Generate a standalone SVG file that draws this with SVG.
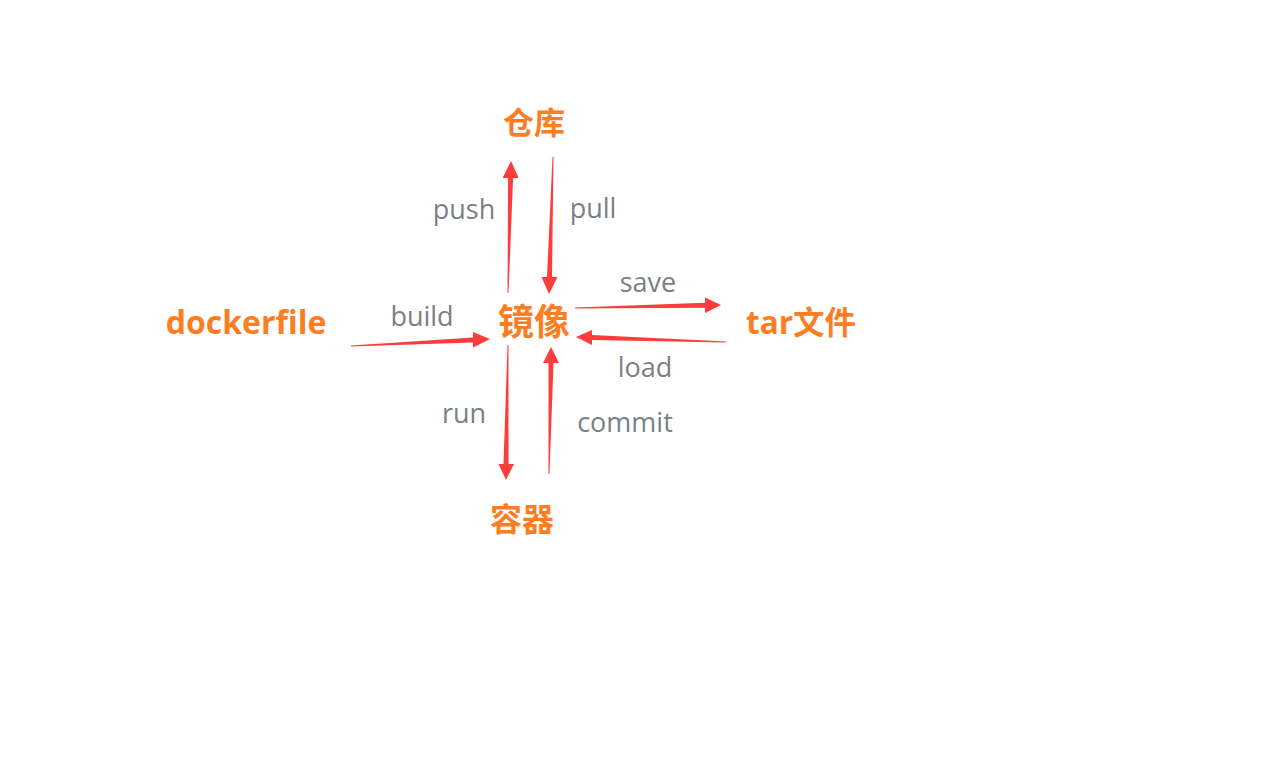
<svg xmlns="http://www.w3.org/2000/svg" width="1262" height="768" viewBox="0 0 1262 768">
<style>
.node{font-family:"Open Sans","Noto Sans CJK SC",sans-serif;font-weight:700;fill:#fd7e22;text-anchor:middle}
.lbl{font-family:"Open Sans","Noto Sans CJK SC",sans-serif;font-size:27px;fill:#7a7f86;text-anchor:middle}
.arr{fill:#ff3c3c}
</style>
<rect width="1262" height="768" fill="#ffffff"/>
<g id="node-repo"><text class="node" x="534" y="134" font-size="31">仓库</text></g>
<g id="node-dockerfile"><text class="node" x="246" y="334" font-size="32">dockerfile</text></g>
<g id="node-image"><text class="node" x="534" y="335" font-size="36">镜像</text></g>
<g id="node-tar"><text class="node" x="801" y="334" font-size="31.5">tar文件</text></g>
<g id="node-container"><text class="node" x="522" y="531" font-size="32">容器</text></g>
<g id="connectors">
<polygon class="arr" points="507.5,293 508.1,178 502.6,178 511,161 518.6,178 513.1,178 508.5,293"/>
<polygon class="arr" points="552.5,157 547,277 541.5,277 549,294 557.5,277 552,277 553.5,157"/>
<polygon class="arr" points="351,345.5 473,337.4 473,332 490,339 473,347.5 473,342.4 351,346.5"/>
<polygon class="arr" points="575,307.5 705,302.8 705,297.5 721,305 705,313 705,307.8 575,308.5"/>
<polygon class="arr" points="726,341.5 592,335 592,330 576,337 592,345 592,340 726,342.5"/>
<polygon class="arr" points="507.5,345 503.5,464 498.5,464 506,480 514,464 508.5,464 508.5,345"/>
<polygon class="arr" points="548.5,474 548.5,363 543,363 551,347 559,363 553.5,363 549.5,474"/>
<text class="lbl" x="464" y="219">push</text>
<text class="lbl" x="593" y="218">pull</text>
<text class="lbl" x="422" y="326">build</text>
<text class="lbl" x="648" y="292">save</text>
<text class="lbl" x="645" y="377">load</text>
<text class="lbl" x="464" y="423">run</text>
<text class="lbl" x="625" y="432">commit</text>
</g>
</svg>
